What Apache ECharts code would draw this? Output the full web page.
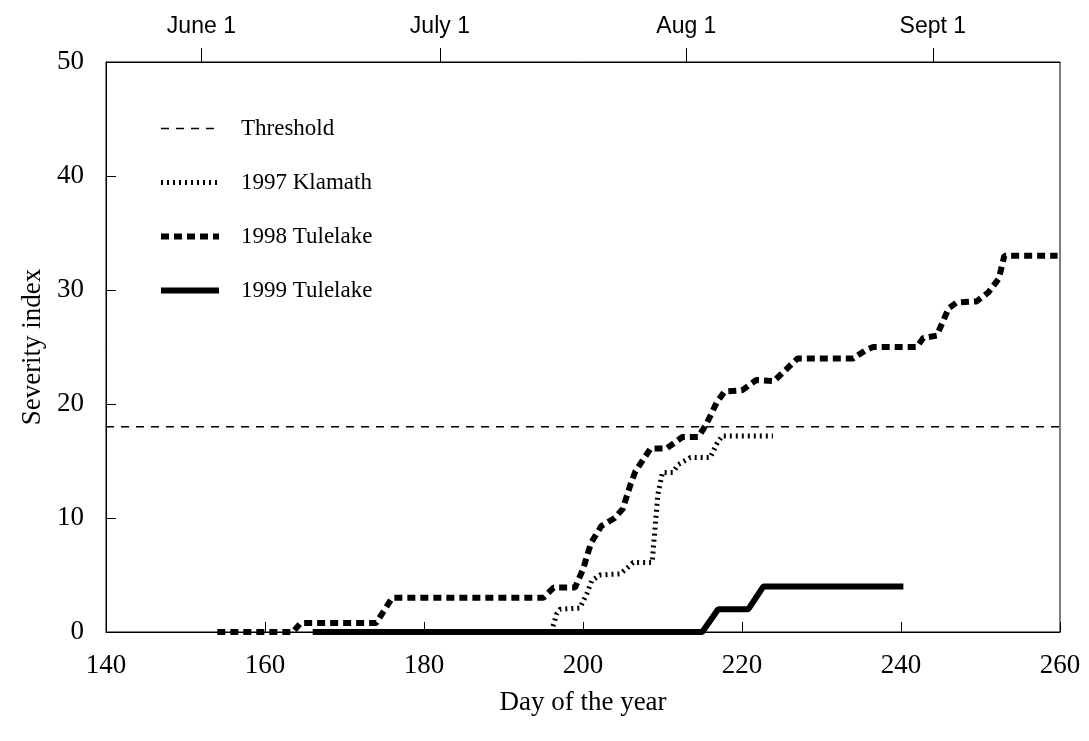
<!DOCTYPE html>
<html>
<head>
<meta charset="utf-8">
<script src="https://cdn.jsdelivr.net/npm/echarts@6/dist/echarts.min.js"></script>
<style>
html,body{margin:0;padding:0;background:#fff;}
#chart{width:1089px;height:741px;}
</style>
</head>
<body>
<div id="chart"></div>
<script>
// ---- data ----
const thresholdValue = 18;
const thresholdDays = [140, 260];

const klamath1997Days = [196, 196.7, 197.1, 199.6, 200.5, 201.1, 202.1, 204.7, 206, 206.3, 208.7, 209.4, 210, 211.3, 212, 213.5, 216, 216.9, 217.5, 223.9];
const klamath1997Vals = [0, 1.6, 2.0, 2.1, 3.4, 4.5, 5.0, 5.1, 5.9, 6.1, 6.1, 12.0, 14.0, 14.0, 14.7, 15.3, 15.3, 16.6, 17.2, 17.2];

const tulelake1998Days = [154, 163.5, 164.5, 174, 176, 195, 196.3, 199, 200, 201, 202.3, 204, 205, 206, 206.6, 208.5, 210.5, 212.5, 214.5, 215.5, 216.8, 217.8, 220, 221.8, 224, 225.5, 227, 234, 235.5, 236.5, 242, 242.8, 244.5, 246, 247, 249.5, 251, 252.3, 253, 259.7];
const tulelake1998Vals = [0, 0, 0.8, 0.8, 3.0, 3.0, 3.9, 3.9, 5.5, 7.8, 9.3, 10.0, 10.8, 13.0, 14.1, 16.1, 16.1, 17.1, 17.1, 18.2, 20.1, 21.1, 21.2, 22.1, 22.0, 23.0, 24.0, 24.0, 24.7, 25.0, 25.0, 25.8, 26.0, 28.4, 28.9, 29.0, 29.8, 31.0, 33.0, 33.0];

const tulelake1999Days = [166, 215, 217, 220.8, 222.7, 240.3];
const tulelake1999Vals = [0, 0, 2.0, 2.0, 4.0, 4.0];

const xTicks = [140, 160, 180, 200, 220, 240, 260];
const yTicks = [0, 10, 20, 30, 40, 50];
const topTickDays = [152, 182, 213, 244];
const topTickLabels = ['June 1', 'July 1', 'Aug 1', 'Sept 1'];

const seriesNames = ['Threshold', '1997 Klamath', '1998 Tulelake', '1999 Tulelake'];

function pairs(xs, ys) { return xs.map((x, i) => [x, ys[i]]); }

const styles = [
  {color: '#000', width: 1.5, type: [8, 7], cap: 'butt'},
  {color: '#000', width: 5, type: [2, 4], cap: 'butt'},
  {color: '#000', width: 6, type: [8, 5], cap: 'butt'},
  {color: '#000', width: 6, type: 'solid', cap: 'butt'}
];

const chart = echarts.init(document.getElementById('chart'), null, {renderer: 'canvas'});
const serif = 'Liberation Serif';
const option = {
  backgroundColor: '#fff',
  animation: false,
  grid: {left: 106, top: 62, width: 954, height: 570, show: true, borderColor: '#000', borderWidth: 1, backgroundColor: 'transparent'},
  legend: {
    orient: 'vertical', left: 153, top: 112, itemWidth: 58, itemHeight: 14, itemGap: 31,
    itemStyle: {opacity: 0},
    data: seriesNames.map((n, i) => ({name: n, lineStyle: Object.assign({}, styles[i]), itemStyle: {opacity: 0}})),
    textStyle: {fontFamily: serif, fontSize: 23, color: '#000', padding: [0, 0, 0, 17]}
  },
  xAxis: [{
    type: 'value', min: xTicks[0], max: xTicks[xTicks.length - 1], interval: 20,
    name: 'Day of the year', nameLocation: 'middle', nameGap: 57,
    nameTextStyle: {fontFamily: serif, fontSize: 27, color: '#000'},
    axisLine: {show: true, onZero: false, lineStyle: {color: '#000', width: 1}},
    axisTick: {show: true, inside: true, length: 10, lineStyle: {color: '#000'}},
    axisLabel: {fontFamily: serif, fontSize: 27, color: '#000', margin: 20},
    splitLine: {show: false}
  }, {
    type: 'value', position: 'top', min: xTicks[0], max: xTicks[xTicks.length - 1],
    axisLine: {show: true, onZero: false, lineStyle: {color: '#000', width: 1}},
    axisTick: {show: true, inside: false, length: 14, customValues: topTickDays, lineStyle: {color: '#000'}},
    axisLabel: {
      show: true, customValues: topTickDays, fontFamily: 'Liberation Sans', fontSize: 23, color: '#000', margin: 24,
      formatter: v => topTickLabels[topTickDays.indexOf(v)] || ''
    },
    splitLine: {show: false}
  }],
  yAxis: {
    type: 'value', min: yTicks[0], max: yTicks[yTicks.length - 1], interval: 10,
    name: 'Severity index', nameLocation: 'middle', nameGap: 57, nameRotate: 90,
    nameTextStyle: {fontFamily: serif, fontSize: 27, color: '#000'},
    axisLine: {show: true, onZero: false, lineStyle: {color: '#000', width: 1}},
    axisTick: {show: true, inside: true, length: 10, lineStyle: {color: '#000'}},
    axisLabel: {fontFamily: serif, fontSize: 27, color: '#000', margin: 22},
    splitLine: {show: false}
  },
  series: [
    {name: seriesNames[0], data: thresholdDays.map(d => [d, thresholdValue])},
    {name: seriesNames[1], data: pairs(klamath1997Days, klamath1997Vals)},
    {name: seriesNames[2], data: pairs(tulelake1998Days, tulelake1998Vals)},
    {name: seriesNames[3], data: pairs(tulelake1999Days, tulelake1999Vals)}
  ].map((s, i) => Object.assign(s, {
    type: 'line', symbol: 'none', silent: true,
    lineStyle: styles[i], itemStyle: {color: '#000'}
  }))
};
chart.setOption(option);
</script>
</body>
</html>
